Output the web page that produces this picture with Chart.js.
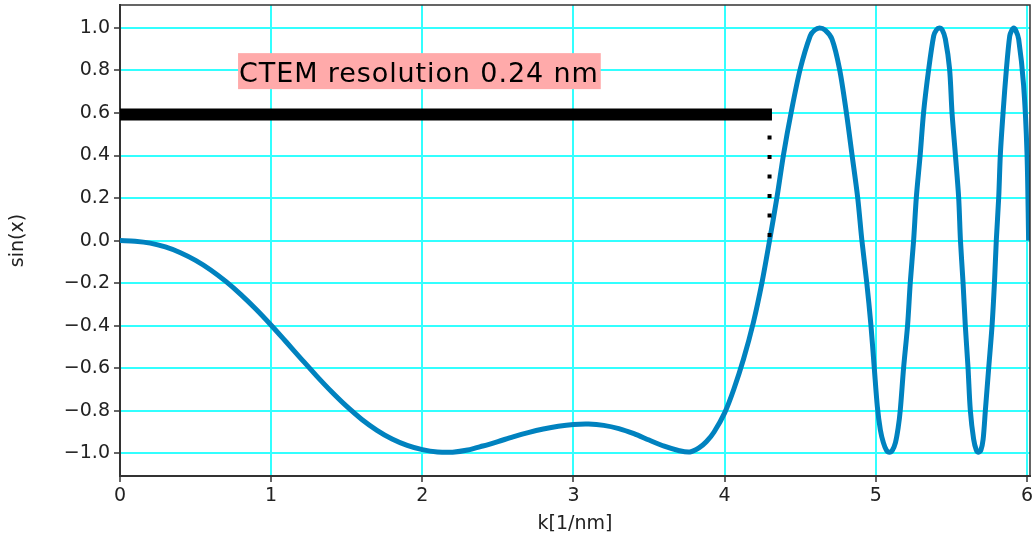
<!DOCTYPE html>
<html>
<head>
<meta charset="utf-8">
<script src="https://cdn.jsdelivr.net/npm/chart.js@4"></script>
<style>
  body { margin: 0; background: #fff; }
  #wrap { width: 1033px; height: 541px; position: relative; }
</style>
</head>
<body>
<div id="wrap"><canvas id="ctf"></canvas></div>
<script>
// phase contrast transfer function, sin(chi) over spatial frequency k
const kValues = [
  0.0, 0.1, 0.2, 0.3, 0.4, 0.5, 0.6, 0.7, 0.8, 0.9,
  1.0, 1.1, 1.2, 1.3, 1.4, 1.5, 1.6, 1.7, 1.8, 1.9,
  2.0, 2.1, 2.2, 2.3, 2.4, 2.5, 2.6, 2.7, 2.8, 2.9,
  3.0, 3.1, 3.2, 3.3, 3.4, 3.5, 3.6, 3.7, 3.77, 3.83,
  3.88, 3.93, 4.0, 4.06, 4.125, 4.19, 4.247, 4.297, 4.346, 4.39,
  4.44, 4.50, 4.566, 4.595, 4.628, 4.665, 4.71, 4.76, 4.805, 4.842,
  4.88, 4.908, 4.94, 4.968, 4.99, 5.01, 5.03, 5.05, 5.07, 5.09,
  5.11, 5.13, 5.148, 5.162, 5.184, 5.21, 5.228, 5.25, 5.268, 5.294,
  5.316, 5.35, 5.383, 5.40, 5.42, 5.44, 5.46, 5.488, 5.504, 5.526,
  5.548, 5.56, 5.577, 5.592, 5.61, 5.625, 5.647, 5.665, 5.68, 5.695,
  5.71, 5.725, 5.747, 5.769, 5.785, 5.797, 5.813, 5.824, 5.842, 5.864,
  5.886, 5.90, 5.912, 5.925, 5.945, 5.978, 6.0, 6.011
];
const sinValues = [
  0.0, -0.003, -0.012, -0.030, -0.057, -0.093, -0.138, -0.192, -0.254, -0.323,
  -0.398, -0.477, -0.557, -0.636, -0.711, -0.780, -0.841, -0.892, -0.933, -0.963,
  -0.983, -0.994, -0.995, -0.985, -0.966, -0.945, -0.923, -0.903, -0.886, -0.873,
  -0.865, -0.863, -0.869, -0.884, -0.908, -0.938, -0.967, -0.988, -0.994, -0.975,
  -0.945, -0.90, -0.81, -0.70, -0.557, -0.385, -0.197, 0.0, 0.203, 0.407,
  0.603, 0.807, 0.963, 0.99, 1.0, 0.99, 0.948, 0.807, 0.603, 0.407,
  0.203, 0.0, -0.197, -0.40, -0.60, -0.78, -0.89, -0.95, -0.985, -0.995,
  -0.985, -0.95, -0.88, -0.796, -0.597, -0.40, -0.197, 0.0, 0.203, 0.407,
  0.603, 0.807, 0.963, 0.99, 1.0, 0.99, 0.948, 0.807, 0.603, 0.407,
  0.203, 0.0, -0.197, -0.40, -0.597, -0.796, -0.934, -0.985, -0.995, -0.985,
  -0.934, -0.796, -0.597, -0.40, -0.197, 0.0, 0.203, 0.407, 0.603, 0.807,
  0.963, 0.99, 1.0, 0.99, 0.948, 0.728, 0.416, 0.0
];

// resolution marker: thick bar plus dotted drop to the first zero crossing
const barK = [0, 4.313];
const barY = [0.593, 0.593];
const dropK = [4.297, 4.297];
const dropY = [0.494, 0.017];

const labelText = 'CTEM resolution 0.24 nm';
const labelK = 0.781;
const labelY = 0.797;

const FONT = '"DejaVu Sans", Verdana, sans-serif';

const toPoints = (xs, ys) => xs.map((x, i) => ({ x: x, y: ys[i] }));

const labelBox = {
  id: 'labelBox',
  afterDatasetsDraw(chart) {
    const { ctx, scales: { x, y } } = chart;
    const left = x.getPixelForValue(labelK);
    const mid = y.getPixelForValue(labelY);
    ctx.save();
    ctx.font = '27px ' + FONT;
    ctx.letterSpacing = '0.9px';
    const w = ctx.measureText(labelText).width;
    ctx.fillStyle = '#ffaaaa';
    ctx.fillRect(left, mid - 18, w + 3, 36);
    ctx.fillStyle = '#000';
    ctx.textBaseline = 'alphabetic';
    ctx.fillText(labelText, left + 1, mid + 11);
    ctx.restore();
  }
};

// top and right edges of the plot frame
const frame = {
  id: 'frame',
  afterDraw(chart) {
    const { ctx, chartArea: a } = chart;
    ctx.save();
    ctx.strokeStyle = '#333';
    ctx.lineWidth = 1.5;
    ctx.beginPath();
    ctx.moveTo(a.left, a.top);
    ctx.lineTo(a.right, a.top);
    ctx.lineTo(a.right, a.bottom);
    ctx.stroke();
    ctx.restore();
  }
};

new Chart(
  document.getElementById('ctf'),
  {
    type: 'line',
    data: {
      datasets: [
        {
          data: toPoints(dropK, dropY),
          borderColor: '#000',
          borderWidth: 4,
          borderDash: [4, 15.5],
          borderCapStyle: 'butt',
          pointRadius: 0,
          order: 0
        },
        {
          data: toPoints(barK, barY),
          borderColor: '#000',
          borderWidth: 12,
          borderCapStyle: 'butt',
          pointRadius: 0,
          order: 1
        },
        {
          data: toPoints(kValues, sinValues),
          borderColor: '#0082bf',
          borderWidth: 5,
          tension: 0.3,
          pointRadius: 0,
          order: 2
        }
      ]
    },
    options: {
      responsive: true,
      maintainAspectRatio: false,
      animation: false,
      events: [],
      layout: { padding: { top: 5, right: 3, left: 0, bottom: 0 } },
      plugins: {
        legend: { display: false },
        tooltip: { enabled: false }
      },
      scales: {
        x: {
          type: 'linear',
          min: 0,
          max: 6.02,
          afterFit: s => { s.height = 65; s.paddingLeft = 0; s.paddingRight = 0; },
          border: { color: '#333', width: 2 },
          grid: { color: '#33ffff', lineWidth: 2, tickColor: '#333', tickLength: 6, tickWidth: 1.5 },
          ticks: {
            stepSize: 1,
            includeBounds: false,
            padding: 3,
            color: '#222',
            font: { family: FONT, size: 19 },
            callback: v => String(v)
          },
          title: {
            display: true,
            text: 'k[1/nm]',
            color: '#222',
            font: { family: FONT, size: 19 },
            padding: { top: 4, bottom: 6 }
          }
        },
        y: {
          type: 'linear',
          min: -1.107,
          max: 1.108,
          afterFit: s => { s.width = 120; s.paddingTop = 0; s.paddingBottom = 0; },
          border: { color: '#333', width: 2 },
          grid: { color: '#33ffff', lineWidth: 2, tickColor: '#333', tickLength: 6, tickWidth: 1.5 },
          ticks: {
            stepSize: 0.2,
            includeBounds: false,
            padding: 4,
            color: '#222',
            font: { family: FONT, size: 19 },
            callback: v => (v < 0 ? '\u2212' : '') + Math.abs(v).toFixed(1)
          },
          title: {
            display: true,
            text: 'sin(x)',
            color: '#222',
            font: { family: FONT, size: 19 },
            padding: { top: 7, bottom: 4 }
          }
        }
      }
    },
    plugins: [labelBox, frame]
  }
);
</script>
</body>
</html>
